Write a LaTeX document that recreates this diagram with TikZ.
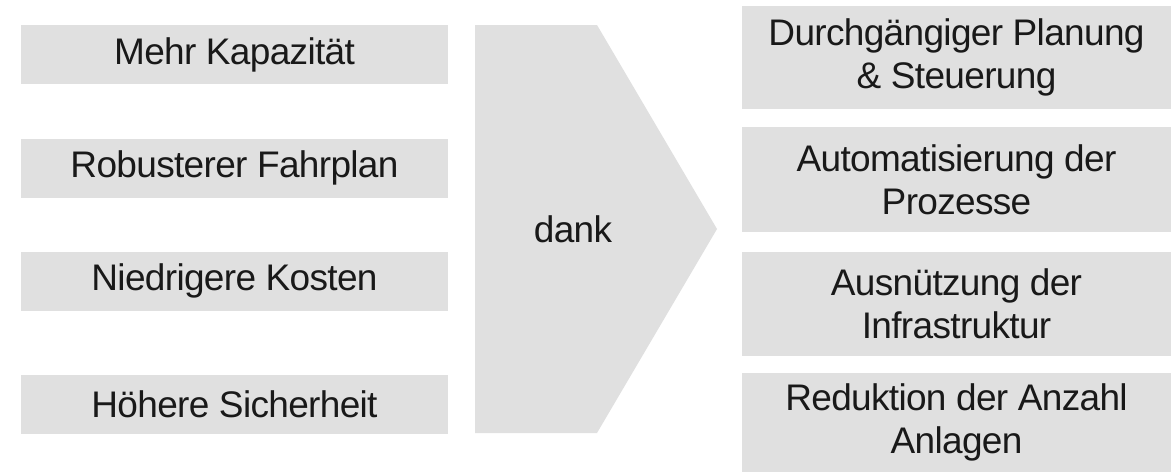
\documentclass[tikz,border=0pt]{standalone}
\usepackage{fontspec}
\setmainfont[LetterSpace=-1.8]{Liberation Sans}
\definecolor{boxgray}{HTML}{E0E0E0}
\begin{document}
\begin{tikzpicture}[x=1pt,y=-1pt,
  txt/.style={inner sep=0pt, align=center, font=\fontsize{37}{43}\selectfont, text=black!90},
  goalbox/.style={txt, fill=boxgray, minimum width=427pt, minimum height=59pt},
  meansbox/.style={txt, fill=boxgray, minimum width=429pt, minimum height=104pt}]
\useasboundingbox (0,0) rectangle (1176,472);
\fill[white] (0,0) rectangle (1176,472);

% goals on the left
\node[goalbox] (g1) at (234.5,54.5) {Mehr Kapazität};
\node[goalbox] (g2) at (234.5,168) {Robusterer Fahrplan};
\node[goalbox] (g3) at (234.5,281) {Niedrigere Kosten};
\node[goalbox] (g4) at (234.5,404) {Höhere Sicherheit};

% chevron in the middle
\fill[boxgray] (475,25) -- (597,25) -- (717,229) -- (597,433) -- (475,433) -- cycle;
\node[txt] (dank) at (573,229) {dank};

% means on the right
\node[meansbox, minimum height=103pt] (m1) at (956.5,57.5) {Durchgängiger Planung\\\& Steuerung};
\node[meansbox, minimum height=105pt] (m2) at (956.5,179.5) {Automatisierung der\\Prozesse};
\node[meansbox, minimum height=104pt] (m3) at (956.5,304) {Ausnützung der\\Infrastruktur};
\node[meansbox, minimum height=99pt] (m4) at (956.5,422.5) {Reduktion der Anzahl\\Anlagen};
\end{tikzpicture}
\end{document}
